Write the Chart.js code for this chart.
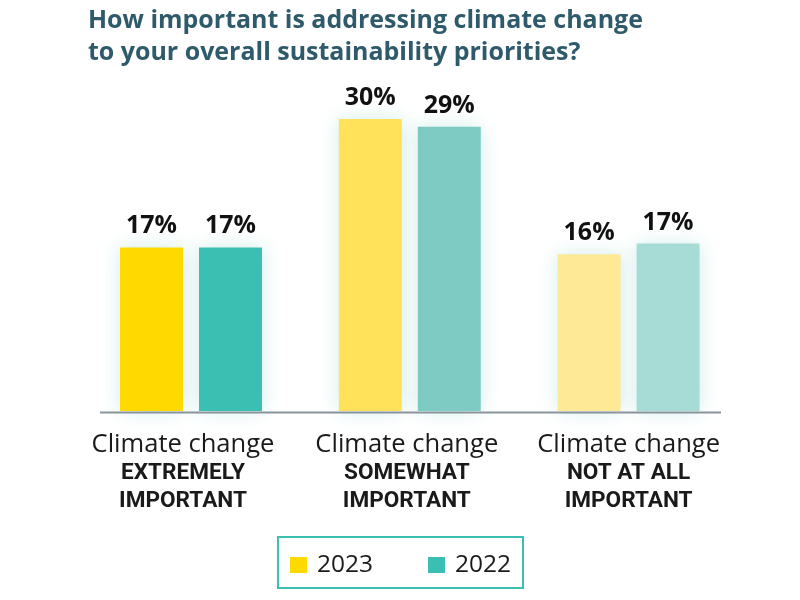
<!DOCTYPE html>
<html><head><meta charset="utf-8">
<script src="https://cdn.jsdelivr.net/npm/chart.js@4.4.1/dist/chart.umd.min.js"></script>
<style>html,body{margin:0;padding:0;background:#fff}#wrap{width:800px;height:600px}</style>
</head><body><div id="wrap"><canvas id="c" width="800" height="600"></canvas></div>
<script>
const titleLines = ['How important is addressing climate change', 'to your overall sustainability priorities?'];
const categoryLine1 = 'Climate change';
const categoryLine2 = ['EXTREMELY', 'SOMEWHAT', 'NOT AT ALL'];
const categoryLine3 = 'IMPORTANT';
const categories = categoryLine2.map(c => [categoryLine1, c, categoryLine3]);
const seriesNames = ['2023', '2022'];
const values2023 = [16.8, 30, 16.1];
const values2022 = [16.8, 29.2, 17.2];
const colors2023 = ['#FFD900', '#FFE259', '#FDE996'];
const colors2022 = ['#3BBFB2', '#7DCBC2', '#A6DCD5'];

const FAMILY = '"Open Sans", "Liberation Sans", sans-serif';
const BOLDFAMILY = 'Roboto, "Open Sans", sans-serif';
function fit(ctx, text, weight, width, fam) {
  ctx.font = weight + ' 100px ' + (fam || FAMILY);
  return 100 * width / ctx.measureText(text).width;
}

const glowPlugin = {
  id: 'glow',
  beforeDatasetsDraw(chart) {
    const ctx = chart.ctx;
    ctx.save();
    ctx.shadowColor = 'rgba(90,190,185,0.28)';
    ctx.shadowBlur = 18;
    ctx.shadowOffsetX = 0;
    ctx.shadowOffsetY = 0;
  },
  afterDatasetsDraw(chart) {
    const ctx = chart.ctx;
    ctx.restore();
    const y0 = chart.scales.y.getPixelForValue(0);
    ctx.save();
    ctx.strokeStyle = '#8A949B';
    ctx.lineWidth = 2;
    ctx.beginPath();
    ctx.moveTo(100, y0 + 1.5);
    ctx.lineTo(721, y0 + 1.5);
    ctx.stroke();
    ctx.restore();
  }
};

const labelOffsets = [-8, -3, 0];

const textPlugin = {
  id: 'texts',
  afterDraw(chart) {
    const ctx = chart.ctx;
    ctx.save();
    const ts = fit(ctx, titleLines[0], 700, 555);
    ctx.font = '700 ' + ts + 'px ' + FAMILY;
    ctx.fillStyle = '#2E5A6B';
    ctx.textAlign = 'left';
    ctx.textBaseline = 'alphabetic';
    ctx.fillText(titleLines[0], 88, 28);
    ctx.fillText(titleLines[1], 88, 60);

    const vs = fit(ctx, '30%', 700, 51);
    ctx.font = '700 ' + vs + 'px ' + FAMILY;
    ctx.fillStyle = '#111111';
    ctx.textAlign = 'center';
    chart.data.datasets.forEach((ds, di) => {
      const meta = chart.getDatasetMeta(di);
      meta.data.forEach((bar, i) => {
        ctx.fillText(Math.round(ds.data[i]) + '%', bar.x, bar.y - 14);
      });
    });

    const xs = chart.scales.x;
    const s1 = fit(ctx, categoryLine1, 400, 183);
    const s2 = fit(ctx, categoryLine3, 700, 128, BOLDFAMILY);
    categories.forEach((lines, i) => {
      const x = xs.getPixelForValue(i) + labelOffsets[i];
      ctx.fillStyle = '#1A1A1A';
      ctx.font = '400 ' + s1 + 'px ' + FAMILY;
      ctx.fillText(lines[0], x, 452);
      ctx.font = '700 ' + s2 + 'px ' + BOLDFAMILY;
      ctx.fillText(lines[1], x, 479);
      ctx.fillText(lines[2], x, 507);
    });

    ctx.strokeStyle = '#3BBFB2';
    ctx.lineWidth = 2;
    ctx.strokeRect(278, 537, 245, 51);
    const ls = fit(ctx, seriesNames[0], 400, 56);
    ctx.font = '400 ' + ls + 'px ' + FAMILY;
    ctx.textAlign = 'left';
    const legendX = [290, 428];
    chart.data.datasets.forEach((ds, di) => {
      ctx.fillStyle = ds.backgroundColor[0];
      ctx.fillRect(legendX[di], 557, 17, 16);
      ctx.fillStyle = '#1A1A1A';
      ctx.fillText(ds.label, legendX[di] + 27, 572);
    });
    ctx.restore();
  }
};

new Chart(document.getElementById('c'), {
  type: 'bar',
  data: {
    labels: categories,
    datasets: [
      { label: seriesNames[0], data: values2023, backgroundColor: colors2023, borderWidth: 0, clip: false },
      { label: seriesNames[1], data: values2022, backgroundColor: colors2022, borderWidth: 0, clip: false }
    ]
  },
  options: {
    responsive: false,
    animation: false,
    devicePixelRatio: 1,
    categoryPercentage: 0.722,
    barPercentage: 0.797,
    layout: { padding: { top: 60.6, bottom: 189, left: 81.6, right: 62 } },
    plugins: { legend: { display: false }, tooltip: { enabled: false }, title: { display: false } },
    scales: {
      x: { display: false, grid: { display: false } },
      y: { display: false, min: 0, max: 36 }
    }
  },
  plugins: [glowPlugin, textPlugin]
});
</script></body></html>
